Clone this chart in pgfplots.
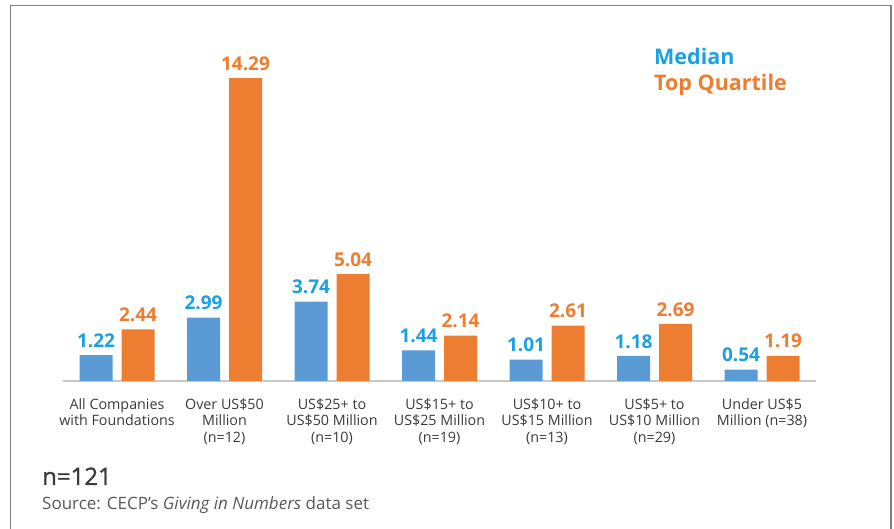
\documentclass[border=0pt]{standalone}
\usepackage{fontspec}
\setmainfont{Open Sans}
\newfontfamily\semibfont[FakeBold=1.2]{Open Sans}
\usepackage{pgfplots}
\pgfplotsset{compat=1.18}
\definecolor{barblue}{HTML}{5B9BD5}
\definecolor{barorange}{HTML}{ED7D31}
\definecolor{lblblue}{HTML}{1BA1E2}
\definecolor{lblorange}{HTML}{ED7D31}
\definecolor{txtgray}{HTML}{3A3A3A}
\definecolor{srcgray}{HTML}{595959}
\definecolor{framegray}{HTML}{7F7F7F}
\definecolor{axisgray}{HTML}{C8C8C8}

\begin{document}
\begin{tikzpicture}[x=1pt,y=1pt]
\useasboundingbox (0,0) rectangle (894,529);
% open frame (no bottom edge)
\draw[framegray, line width=1.8pt] (10.5,-5) -- (10.5,523.5) -- (891,523.5) -- (891,-5);

\begin{axis}[
    at={(63.25pt,148pt)}, anchor=south west,
    scale only axis,
    width=752.5pt, height=339.2pt,
    xmin=-0.5, xmax=6.5, ymin=0, ymax=16,
    ybar=9pt, bar width=33pt,
    axis x line*=bottom, axis y line=none,
    axis line style={draw=axisgray, line width=1.6pt, -},
    x axis line style={-},
    xtick=data, major tick length=0pt,
    xticklabels={{All Companies\\with Foundations},
                 {Over US\$50\\Million\\(n=12)},
                 {US\$25+ to\\US\$50 Million\\(n=10)},
                 {US\$15+ to\\US\$25 Million\\(n=19)},
                 {US\$10+ to\\US\$15 Million\\(n=13)},
                 {US\$5+ to\\US\$10 Million\\(n=29)},
                 {Under US\$5\\Million (n=38)}},
    x tick label style={font=\fontsize{14.3}{16.5}\selectfont, text=txtgray,
                        align=center, yshift=-14pt},
    nodes near coords={\pgfmathprintnumber[fixed,precision=2,fixed zerofill,assume math mode=true]{\pgfplotspointmeta}},
    every node near coord/.append style={font=\fontsize{19}{21}\selectfont\bfseries, yshift=4pt},
  ]
\addplot[fill=barblue, draw=none, every node near coord/.append style={text=lblblue}]
  coordinates {(0,1.22) (1,2.99) (2,3.74) (3,1.44) (4,1.01) (5,1.18) (6,0.54)};
\addplot[fill=barorange, draw=none, every node near coord/.append style={text=lblorange}]
  coordinates {(0,2.44) (1,14.29) (2,5.04) (3,2.14) (4,2.61) (5,2.69) (6,1.19)};
\end{axis}

% legend
\node[anchor=base west, inner sep=0, font=\fontsize{21.5}{24}\selectfont\bfseries, text=lblblue] at (654,464) {Median};
\node[anchor=base west, inner sep=0, font=\fontsize{21.5}{24}\selectfont\bfseries, text=lblorange] at (654,438) {Top Quartile};

% footer
\node[anchor=base west, inner sep=0, font=\fontsize{24}{26}\selectfont\semibfont, text=txtgray] at (42,44) {n=121};
\node[anchor=base west, inner sep=0, font=\fontsize{17}{20}\selectfont, text=srcgray] at (42,19) {Source: CECP's \textit{Giving in Numbers} data set};
\end{tikzpicture}
\end{document}
